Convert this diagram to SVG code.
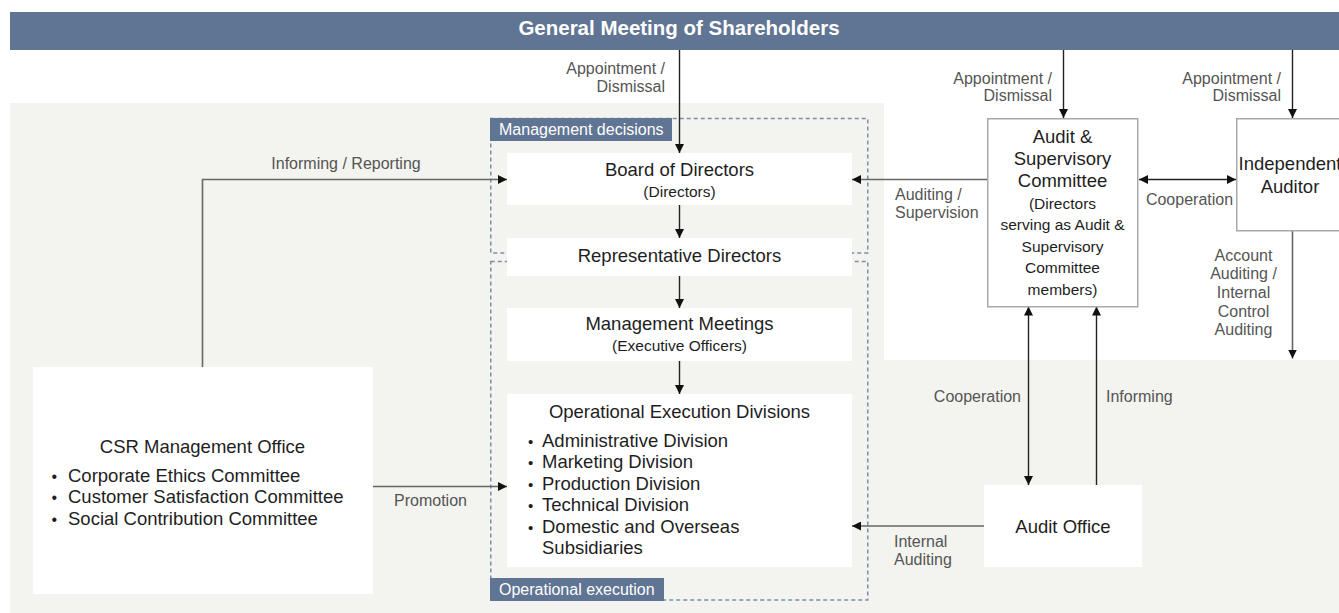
<svg xmlns="http://www.w3.org/2000/svg" width="1339" height="613" viewBox="0 0 1339 613">
<style>
.bg{fill:#f3f3ef}
.box{fill:#ffffff}
.obox{fill:#ffffff;stroke:#a9a9a9;stroke-width:1.5}
.dash{fill:none;stroke:#7d8dab;stroke-width:1.5;stroke-dasharray:4 3}
.tag{fill:#607493}
.t{font-family:"Liberation Sans",Arial,sans-serif;font-size:18.5px;fill:#1e1e1e}
.s{font-family:"Liberation Sans",Arial,sans-serif;font-size:15.5px;fill:#1e1e1e}
.lb{font-family:"Liberation Sans",Arial,sans-serif;font-size:16px;fill:#555555}
.w{font-family:"Liberation Sans",Arial,sans-serif;font-size:16px;fill:#ffffff}
.c{text-anchor:middle}
.e{text-anchor:end}
.ln{fill:none;stroke:#222222;stroke-width:1.4}
.lg{fill:none;stroke:#666666;stroke-width:1.6}
</style>
<defs>
<marker id="ah" viewBox="0 0 10 10" refX="10" refY="5" markerWidth="9" markerHeight="9" markerUnits="userSpaceOnUse" orient="auto-start-reverse">
<path d="M0,0 L10,5 L0,10 z" fill="#111111"/>
</marker>
</defs>

<g id="background">
<path class="bg" d="M10,103 H884 V360 H1339 V613 H10 Z"/>
</g>

<g id="banner">
<rect x="10" y="12" width="1329" height="38" fill="#607493"/>
<text x="679" y="35" class="c" font-family="Liberation Sans, Arial, sans-serif" font-size="20.5" font-weight="bold" fill="#ffffff">General Meeting of Shareholders</text>
</g>

<g id="zones">
<rect class="dash" x="490.75" y="118.5" width="377" height="134.5"/>
<rect class="dash" x="490.75" y="261.5" width="377" height="338.5"/>
<rect class="tag" x="490" y="118" width="182" height="23"/>
<text class="w" x="499" y="134.5">Management decisions</text>
<rect class="tag" x="490" y="578" width="174" height="23"/>
<text class="w" x="499" y="594.5">Operational execution</text>
</g>

<g id="connectors">
<line class="ln" x1="679.5" y1="50" x2="679.5" y2="153" marker-end="url(#ah)"/>
<line class="ln" x1="1063.5" y1="50" x2="1063.5" y2="118" marker-end="url(#ah)"/>
<line class="ln" x1="1292.5" y1="50" x2="1292.5" y2="118" marker-end="url(#ah)"/>
<line class="ln" x1="679.5" y1="205" x2="679.5" y2="238" marker-end="url(#ah)"/>
<line class="ln" x1="679.5" y1="276" x2="679.5" y2="308" marker-end="url(#ah)"/>
<line class="ln" x1="679.5" y1="361" x2="679.5" y2="394" marker-end="url(#ah)"/>
<path class="lg" d="M202.5,367 V179.5 H507" marker-end="url(#ah)"/>
<line class="lg" x1="373" y1="486.5" x2="507" y2="486.5" marker-end="url(#ah)"/>
<line class="lg" x1="987.5" y1="179.5" x2="852" y2="179.5" marker-end="url(#ah)"/>
<line class="ln" x1="1139" y1="179.5" x2="1236" y2="179.5" marker-start="url(#ah)" marker-end="url(#ah)"/>
<line class="lg" x1="1292.5" y1="231" x2="1292.5" y2="358.5" marker-end="url(#ah)"/>
<line class="ln" x1="1028.5" y1="306.5" x2="1028.5" y2="485" marker-start="url(#ah)" marker-end="url(#ah)"/>
<line class="ln" x1="1096.5" y1="485" x2="1096.5" y2="306.5" marker-end="url(#ah)"/>
<line class="lg" x1="984" y1="526" x2="852" y2="526" marker-end="url(#ah)"/>
<text class="lb e" x="665" y="74">Appointment /</text>
<text class="lb e" x="665" y="92">Dismissal</text>
<text class="lb e" x="1052" y="83.5">Appointment /</text>
<text class="lb e" x="1052" y="100.5">Dismissal</text>
<text class="lb e" x="1281" y="83.5">Appointment /</text>
<text class="lb e" x="1281" y="100.5">Dismissal</text>
<text class="lb c" x="346" y="169">Informing / Reporting</text>
<text class="lb" x="394" y="506">Promotion</text>
<text class="lb" x="895" y="200">Auditing /</text>
<text class="lb" x="895" y="218">Supervision</text>
<text class="lb c" x="1189.5" y="205">Cooperation</text>
<text class="lb c" x="1243.5" y="261">Account</text>
<text class="lb c" x="1243.5" y="279">Auditing /</text>
<text class="lb c" x="1243.5" y="297.5">Internal</text>
<text class="lb c" x="1243.5" y="316.5">Control</text>
<text class="lb c" x="1243.5" y="334.5">Auditing</text>
<text class="lb e" x="1021" y="402">Cooperation</text>
<text class="lb" x="1106" y="402">Informing</text>
<text class="lb" x="894" y="547">Internal</text>
<text class="lb" x="894" y="564.5">Auditing</text>
</g>

<g id="board">
<rect class="box" x="507" y="153" width="345" height="52"/>
<text class="t c" x="679.5" y="176">Board of Directors</text>
<text class="s c" x="679.5" y="197">(Directors)</text>
</g>

<g id="representative">
<rect class="box" x="507" y="238" width="345" height="38"/>
<text class="t c" x="679.5" y="262">Representative Directors</text>
</g>

<g id="management-meetings">
<rect class="box" x="507" y="308" width="345" height="53"/>
<text class="t c" x="679.5" y="330">Management Meetings</text>
<text class="s c" x="679.5" y="351">(Executive Officers)</text>
</g>

<g id="operational-divisions">
<rect class="box" x="507" y="394" width="345" height="173"/>
<text class="t c" x="679.5" y="417.5">Operational Execution Divisions</text>
<text class="t" x="528" y="446.5"><tspan font-size="15">•</tspan><tspan x="542">Administrative Division</tspan></text>
<text class="t" x="528" y="468"><tspan font-size="15">•</tspan><tspan x="542">Marketing Division</tspan></text>
<text class="t" x="528" y="489.5"><tspan font-size="15">•</tspan><tspan x="542">Production Division</tspan></text>
<text class="t" x="528" y="511"><tspan font-size="15">•</tspan><tspan x="542">Technical Division</tspan></text>
<text class="t" x="528" y="532.5"><tspan font-size="15">•</tspan><tspan x="542">Domestic and Overseas</tspan></text>
<text class="t" x="542" y="554">Subsidiaries</text>
</g>

<g id="csr-office">
<rect class="box" x="33" y="367" width="340" height="227"/>
<text class="t c" x="202.5" y="452.5">CSR Management Office</text>
<text class="t" x="51.5" y="481.5"><tspan font-size="16">•</tspan><tspan x="68">Corporate Ethics Committee</tspan></text>
<text class="t" x="51.5" y="503"><tspan font-size="16">•</tspan><tspan x="68">Customer Satisfaction Committee</tspan></text>
<text class="t" x="51.5" y="524.5"><tspan font-size="16">•</tspan><tspan x="68">Social Contribution Committee</tspan></text>
</g>

<g id="audit-committee">
<rect class="obox" x="987.75" y="118.75" width="150" height="188"/>
<text class="t c" x="1062.5" y="142.5">Audit &amp;</text>
<text class="t c" x="1062.5" y="164.5">Supervisory</text>
<text class="t c" x="1062.5" y="186.5">Committee</text>
<text class="s c" x="1062.5" y="208.5">(Directors</text>
<text class="s c" x="1062.5" y="230">serving as Audit &amp;</text>
<text class="s c" x="1062.5" y="251.5">Supervisory</text>
<text class="s c" x="1062.5" y="273">Committee</text>
<text class="s c" x="1062.5" y="294.5">members)</text>
</g>

<g id="independent-auditor">
<rect class="obox" x="1236.75" y="118.75" width="120" height="112"/>
<text class="t c" x="1290" y="170">Independent</text>
<text class="t c" x="1290" y="192.5">Auditor</text>
</g>

<g id="audit-office">
<rect class="box" x="984" y="485" width="158" height="82"/>
<text class="t c" x="1063" y="533">Audit Office</text>
</g>
</svg>
